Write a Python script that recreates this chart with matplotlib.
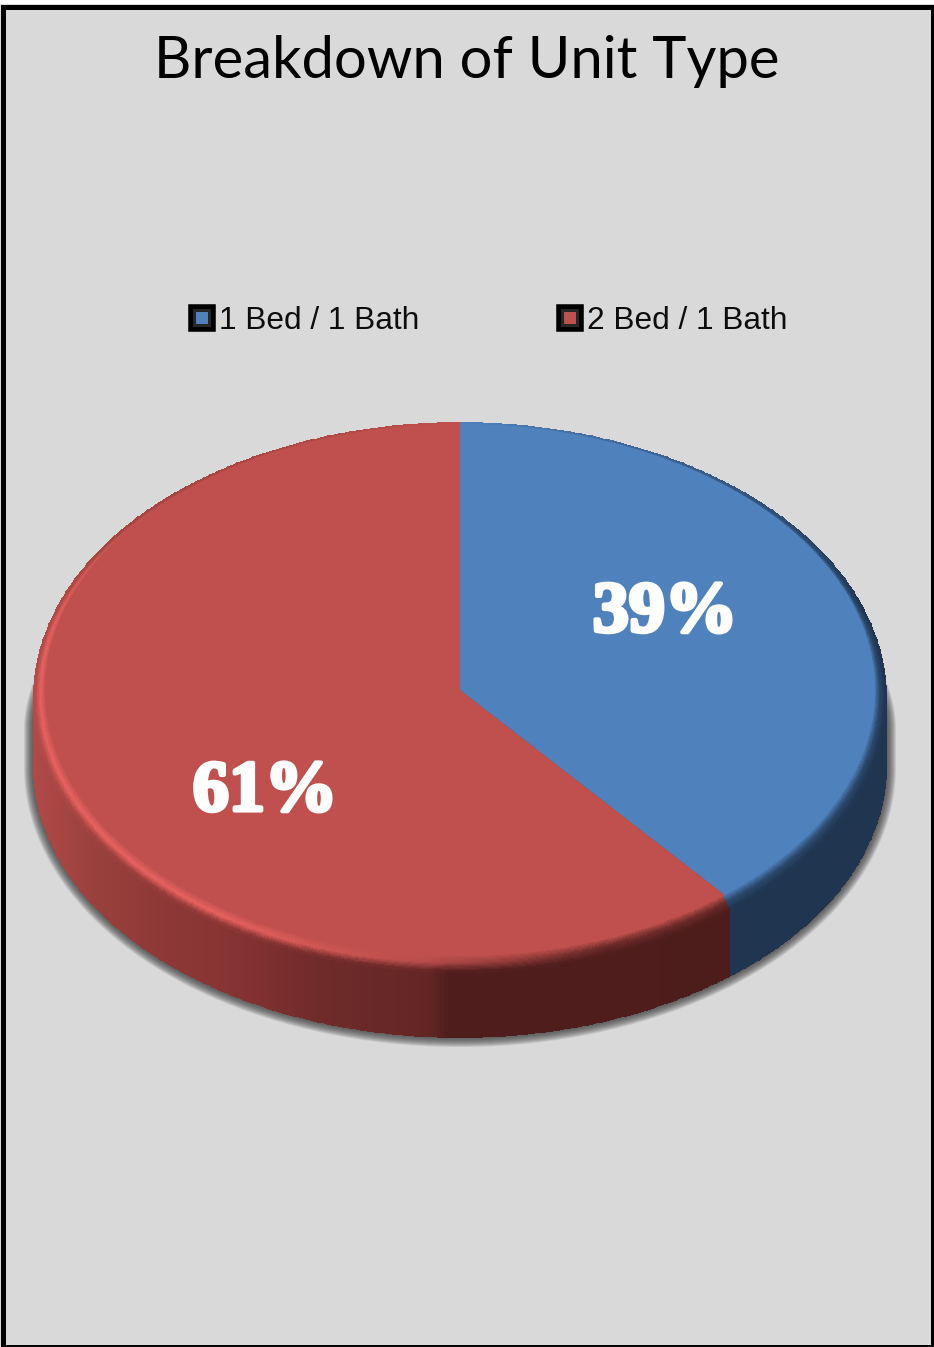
import numpy as np
import matplotlib
matplotlib.use('Agg')
import matplotlib.pyplot as plt
import matplotlib.patheffects as pe
from matplotlib.colors import to_rgb
from matplotlib.lines import Line2D
from matplotlib.legend_handler import HandlerTuple
from matplotlib.patches import Polygon, Rectangle

# chart values
unit_types = ['1 Bed / 1 Bath', '2 Bed / 1 Bath']
shares = [39, 61]
title = 'Breakdown of Unit Type'

BLUE = '#4f81bd'
RED = '#c0504d'
BLUE_SIDE = '#1f3550'
RED_HI = '#e8625f'
BG = '#d9d9d9'

W, H = 934, 1347
CX, CY = 460, 690      # centre of the pie face, pixels from top left
RX, RY = 415, 266      # pie face radii in pixels
OUTER_RX = 426
DEPTH = 77


def px(n):
    return n / RX


def py(n):
    return n / RY


def lerp(a, b, t):
    return np.asarray(a) + (np.asarray(b) - np.asarray(a)) * t


def red_side(x_pixels):
    stops = [34, 100, 170, 240, 320, 430, 450, 730]
    cols = np.array([to_rgb(c) for c in ['#b04a47', '#98403c', '#8d3836', '#853332',
                                         '#6f2b2a', '#632624', '#4f1d1c', '#4d1d1c']])
    return np.array([np.interp(x_pixels, stops, cols[:, i]) for i in range(3)]).T


fig = plt.figure(figsize=(W / 100, H / 100), dpi=100, facecolor='white')
ax = fig.add_axes([0, 0, 1, 1])

wedges, _, pct_texts = ax.pie(shares, colors=[BLUE, RED], startangle=90, counterclock=False,
                              radius=1, autopct='%.0f%%')
ax.set_aspect('auto')
ax.set_xlim(-CX / RX, (W - CX) / RX)
ax.set_ylim(-(H - CY) / RY, CY / RY)
ax.set_axis_on()
ax.set_frame_on(True)
ax.set_xticks([])
ax.set_yticks([])
ax.set_facecolor(BG)
for s in ax.spines.values():
    s.set_visible(False)
for w in wedges:
    w.set_zorder(6)
    w.set_linewidth(0)

# where the two slices meet on the front of the pie
split = 90 - 360 * shares[0] / sum(shares) + 360

# soft shadow under the pie
for k in range(1, 11):
    a = np.radians(np.linspace(0, 180, 120))
    b = np.radians(np.linspace(180, 360, 120))
    xs = np.r_[px(OUTER_RX + k) * np.cos(a), px(OUTER_RX + k) * np.cos(b)]
    ys = np.r_[py(-40) + py(230) * np.sin(a), py(-DEPTH) + py(270 + k) * np.sin(b)]
    ax.add_patch(Polygon(np.c_[xs, ys], closed=True, fc='#383838', ec='none', alpha=0.13, zorder=2))

# side wall
theta = np.linspace(180, 360, 361)
mid = (theta[:-1] + theta[1:]) / 2
side_x = px(OUTER_RX) * np.cos(np.radians(theta))
side_y = py(270) * np.sin(np.radians(theta))
X = np.vstack([side_x, side_x])
Y = np.vstack([side_y, side_y - py(DEPTH)])
side_cols = red_side(CX + OUTER_RX * np.cos(np.radians(mid)))
side_cols[mid > split] = to_rgb(BLUE_SIDE)
ax.pcolormesh(X, Y, side_cols[np.newaxis, :, :], shading='flat', edgecolors='face',
              linewidth=0.2, zorder=3)

# bevel round the face, outer edge sits lower than the face
theta = np.linspace(0, 360, 721)
mid = (theta[:-1] + theta[1:]) / 2
rim = np.linspace(0, 1, 15)
rim_mid = (rim[:-1] + rim[1:]) / 2
rim_rx = lerp(415, OUTER_RX, rim)
rim_ry = lerp(266, 274.5, rim)
rim_cy = lerp(0, -7.5, rim)
X = np.outer(px(rim_rx), np.cos(np.radians(theta)))
Y = np.outer(py(rim_ry), np.sin(np.radians(theta))) + py(rim_cy)[:, np.newaxis]

cols = np.zeros((len(rim_mid), len(mid), 3))
blue_part = (mid < 90) | (mid > split)
signed = np.where(mid > 180, mid - 360, mid)
blue_mix = np.interp(signed, [-60, 20, 70, 90], [1, 1, 0.3, 0])
red_mix = np.interp(mid, [90, 175], [0, 1])
lit = np.interp(mid, [90, 130, 170, 235, 265, 290], [0, 0.2, 1, 1, 0.55, 0])
rim_side = red_side(CX + OUTER_RX * np.cos(np.radians(mid)))
for j in range(len(mid)):
    if blue_part[j]:
        face = np.array(to_rgb(BLUE))
        dark = lerp(face, to_rgb(BLUE_SIDE), blue_mix[j])
        peak = lerp(face, dark, 0.75)
    else:
        face = np.array(to_rgb(RED))
        dark = lerp(face, rim_side[j], red_mix[j])
        peak = lerp(lerp(face, dark, 0.75), to_rgb(RED_HI), lit[j])
    for i, t in enumerate(rim_mid):
        cols[i, j] = lerp(face, peak, t / 0.5) if t < 0.5 else lerp(peak, dark, (t - 0.5) / 0.5)
ax.pcolormesh(X, Y, cols, shading='flat', edgecolors='face', linewidth=0.2, zorder=4)

# percent labels
label_pos = [(px(665 - CX), py(CY - 614)), (px(265 - CX), py(CY - 793))]
for t, pos in zip(pct_texts, label_pos):
    t.set_position(pos)
    t.set(color='white', family='Liberation Serif', weight='bold', fontsize=52,
          ha='center', va='center', zorder=8)
    t.set_path_effects([pe.withStroke(linewidth=3, foreground='white')])

fig.text(467 / W, 1 - 61 / H, title, family='Lato', fontsize=41.8, color='black', ha='center', va='center')

# legend with bevelled square keys
handles = []
for c in [BLUE, RED]:
    outer = Line2D([], [], marker='s', ms=16, mew=4, mfc='black', mec='black', ls='none')
    inner = Line2D([], [], marker='s', ms=13, mew=0, mfc='#262626', ls='none')
    key = Line2D([], [], marker='s', ms=8, mew=0, mfc=c, ls='none')
    handles.append((outer, inner, key))
fig.legend(handles, unit_types, handler_map={tuple: HandlerTuple(ndivide=1, pad=0)},
           ncols=2, loc='center', bbox_to_anchor=(487 / W, 1 - 321 / H), frameon=False,
           prop={'family': 'Liberation Sans', 'size': 22.8}, handlelength=1.0,
           handletextpad=0.05, columnspacing=4.25, labelcolor='#0d0d0d')

# black frame, the top strip above it is white
fig.add_artist(Rectangle((0, 1 - 4 / H), 1, 4 / H, transform=fig.transFigure, fc='white', ec='none'))
fig.add_artist(Rectangle((2.5 / W, 1 - 1346.5 / H), 930 / W, 1340 / H, transform=fig.transFigure,
                         fc='none', ec='black', lw=3.6, clip_on=False))

fig.savefig('out.png', dpi=100)
